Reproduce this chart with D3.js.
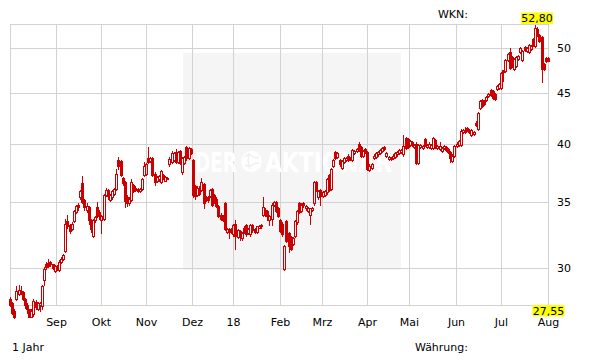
<!DOCTYPE html>
<html>
<head>
<meta charset="utf-8">
<script src="https://cdn.jsdelivr.net/npm/d3@7"></script>
<style>
  body { margin: 0; background: #fff; }
  text { font-family: "DejaVu Sans", Verdana, sans-serif; font-size: 11px; fill: #000; }
</style>
</head>
<body>
<div id="container"></div>
<script>
// daily candles, Aug 2017 - Aug 2018 (trading days)
var opens = [
  28.0, 27.7, 27.2, 27.95, 28.3, 28.4, 28.4, 28.0, 27.6, 27.3, 26.85, 27.0, 27.8, 27.3, 27.6, 27.5, 29.2, 30.3, 30.4, 30.5, 30.3, 29.85,
  30.2, 29.9, 30.45, 30.7, 31.25, 33.5, 33.2, 32.9, 33.5, 34.2, 34.8, 35.4, 36.6, 35.2, 34.4, 34.6, 33.6, 32.4, 33.6, 34.6, 34.2,
  33.6, 33.7, 35.6, 36.0, 35.2, 35.4, 35.7, 36.1, 38.6, 38.5, 37.0, 36.7, 35.4, 34.9, 35.2, 36.4, 36.2, 36.1, 35.9, 36.1, 37.3,
  37.4, 38.8, 38.5, 38.8, 37.4, 36.8, 36.9, 36.7, 37.3, 36.8, 37.05, 38.2, 38.4, 38.6, 39.3, 38.4, 39.4, 37.5, 38.3, 39.8, 38.8, 39.6,
  38.6, 36.3, 35.6, 36.2, 36.0, 36.5, 35.4, 35.4, 35.5, 36.1, 35.6, 35.3, 34.7, 34.0, 33.9, 34.9, 32.7, 32.9, 32.9,
  32.5, 33.25, 32.3, 32.75, 32.2, 33.0, 33.2, 32.6, 32.5, 33.2, 32.9, 32.7, 33.0, 33.1, 34.0, 34.4, 34.3, 33.6, 33.7, 34.8, 35.0, 34.5,
  33.6, 33.3, 30.0, 33.5, 32.6, 32.3, 31.8, 32.4, 33.4, 34.9, 34.3, 34.95, 34.5, 34.3, 34.0, 34.4, 34.9, 36.7, 35.4, 36.0,
  35.5, 35.6, 35.8, 37.3, 36.1, 38.1, 39.3, 38.9, 38.6, 37.9, 38.4, 38.6, 39.0, 38.7, 38.6, 39.2, 39.4, 40.05, 39.8, 39.0, 39.6,
  39.3, 37.7, 37.9, 38.8, 38.9, 39.1, 39.2, 39.4, 39.8, 39.0, 38.7, 38.8, 38.8, 38.9, 39.1, 39.2, 39.3, 39.1, 40.6, 40.5,
  40.0, 40.2, 39.8, 40.1, 38.3, 39.8, 39.7, 40.5, 39.8, 39.8, 39.7, 39.7, 40.4, 39.7, 39.6, 39.4, 39.7, 39.8, 39.6, 39.3, 38.5, 39.0,
  39.9, 40.0, 40.0, 41.2, 41.2, 41.6, 41.4, 40.9, 41.0, 42.1, 41.5, 43.5, 44.4, 44.3, 44.4, 44.8, 45.4, 45.3, 45.0, 45.5, 45.6,
  45.6, 47.5, 47.4, 48.7, 49.6, 49.0, 47.7, 48.0, 48.8, 49.6, 48.7, 50.2, 49.7, 49.6, 49.9, 51.1, 50.3, 52.3, 51.6, 51.3, 48.2, 48.9,
  48.9
];
var highs = [
  28.1, 27.8, 27.3, 28.85, 28.9, 28.8, 28.5, 28.05, 27.7, 27.35, 27.3, 27.95, 27.9, 27.8, 27.8, 28.9, 30.1, 30.5, 30.65, 30.55, 30.35, 30.25,
  30.25, 30.6, 30.8, 31.05, 33.7, 34.0, 33.3, 33.4, 34.4, 34.8, 34.9, 36.0, 37.2, 35.3, 34.9, 34.7, 33.7, 33.7, 33.9, 35.0, 34.4,
  34.0, 35.7, 36.2, 36.1, 35.7, 36.0, 36.2, 37.8, 38.9, 38.6, 37.1, 36.8, 35.6, 35.4, 36.9, 36.5, 36.3, 36.2, 36.2, 37.0, 38.4,
  38.3, 39.8, 38.9, 38.9, 37.5, 37.2, 37.3, 37.7, 37.35, 37.15, 37.1, 38.9, 39.4, 39.3, 39.6, 39.4, 39.5, 38.9, 39.0, 39.9, 39.8, 39.7,
  38.7, 36.4, 36.3, 36.3, 37.0, 36.6, 35.5, 35.5, 36.1, 36.2, 35.7, 35.4, 34.8, 34.1, 34.0, 35.0, 33.0, 33.0, 33.0,
  33.3, 33.6, 32.9, 32.8, 32.7, 33.1, 33.3, 33.0, 33.3, 33.3, 33.0, 33.15, 33.2, 33.3, 35.4, 34.5, 34.4, 34.0, 34.9, 35.1, 35.1, 34.6,
  33.7, 33.4, 31.7, 33.6, 32.7, 32.4, 32.3, 33.6, 34.4, 35.0, 34.9, 35.0, 34.8, 34.6, 34.55, 34.6, 36.8, 36.8, 36.0, 36.1,
  35.9, 36.0, 37.0, 37.4, 37.9, 38.7, 39.4, 39.3, 38.7, 38.6, 38.9, 38.9, 39.1, 38.9, 39.6, 39.5, 39.7, 40.2, 39.9, 39.5, 39.7,
  39.4, 38.2, 38.3, 39.1, 39.3, 39.4, 39.6, 39.8, 39.9, 39.3, 39.0, 38.9, 39.1, 39.3, 39.4, 39.6, 39.6, 40.9, 40.7, 40.6,
  40.4, 40.3, 40.1, 40.2, 40.1, 40.1, 40.0, 40.6, 40.1, 40.2, 40.1, 40.7, 40.5, 40.0, 40.2, 39.8, 40.0, 39.9, 39.7, 39.4, 39.1, 40.0,
  40.2, 40.4, 41.5, 41.5, 41.7, 41.7, 41.5, 41.5, 41.3, 42.2, 43.1, 44.4, 44.5, 44.4, 44.8, 45.1, 45.5, 45.4, 45.1, 45.9, 46.1,
  47.3, 47.6, 48.8, 49.5, 50.0, 49.1, 48.9, 49.1, 49.2, 50.1, 49.8, 50.3, 50.1, 50.5, 50.4, 51.2, 52.8, 52.5, 51.7, 51.4, 48.3, 49.0,
  49.0
];
var lows = [
  27.5, 27.0, 26.75, 27.9, 28.2, 28.3, 27.9, 27.4, 27.1, 26.8, 26.8, 26.9, 27.35, 27.25, 27.2, 27.3, 28.9, 30.0, 30.1, 30.2, 29.95, 29.8,
  29.9, 29.85, 30.4, 30.6, 31.2, 33.0, 32.6, 32.8, 33.4, 34.1, 34.4, 35.3, 34.9, 34.4, 34.2, 33.3, 32.7, 32.3, 33.4, 33.8, 33.7,
  32.6, 33.6, 35.5, 35.3, 35.1, 35.3, 35.6, 36.0, 37.8, 37.2, 36.4, 34.6, 34.7, 34.8, 35.1, 35.8, 35.9, 35.8, 35.8, 36.0, 37.2,
  37.3, 38.3, 38.4, 37.2, 36.4, 36.7, 36.8, 36.6, 36.9, 36.75, 36.9, 38.1, 38.3, 38.5, 38.3, 38.3, 38.2, 37.4, 38.2, 38.6, 38.7, 39.1,
  35.4, 35.3, 35.5, 35.6, 35.9, 34.5, 35.1, 35.0, 35.4, 34.7, 34.9, 34.6, 33.8, 33.6, 33.5, 32.8, 32.6, 32.2, 32.6,
  32.4, 31.4, 32.2, 32.1, 32.1, 32.6, 32.4, 32.5, 32.4, 32.7, 32.6, 32.6, 32.95, 33.0, 33.9, 33.9, 33.6, 33.2, 33.2, 34.7, 34.2, 33.8,
  32.7, 32.4, 29.9, 31.9, 31.2, 31.3, 31.7, 32.3, 33.3, 34.1, 34.2, 34.6, 34.4, 34.2, 33.3, 34.3, 34.8, 35.9, 35.3, 34.8,
  35.4, 35.5, 35.7, 35.9, 36.0, 38.0, 38.7, 38.8, 38.1, 37.8, 38.3, 38.5, 38.5, 38.6, 38.5, 39.1, 39.3, 39.4, 38.9, 38.9, 39.2,
  37.7, 37.6, 37.8, 38.7, 38.8, 39.0, 39.1, 39.3, 39.5, 38.9, 38.6, 38.6, 38.7, 38.8, 39.0, 39.1, 39.2, 39.0, 39.6, 39.7,
  39.9, 39.9, 39.7, 38.2, 38.2, 39.7, 39.6, 39.9, 39.7, 39.7, 39.6, 39.6, 39.7, 39.6, 39.5, 39.3, 39.6, 39.4, 39.2, 38.4, 38.4, 38.9,
  39.8, 39.9, 39.9, 41.1, 41.1, 41.3, 41.1, 40.8, 40.9, 41.8, 41.4, 43.4, 43.6, 43.8, 44.3, 44.7, 44.8, 44.5, 44.4, 45.4, 45.5,
  45.5, 46.4, 47.3, 48.6, 47.7, 47.9, 47.6, 47.9, 48.7, 49.5, 48.6, 49.7, 49.6, 49.5, 49.8, 50.3, 50.2, 51.4, 50.7, 46.2, 47.6, 48.4,
  48.5
];
var closes = [
  27.6, 27.1, 26.8, 28.5, 28.55, 28.5, 27.95, 27.6, 27.3, 26.85, 27.2, 27.85, 27.45, 27.7, 27.7, 28.8, 30.0, 30.15, 30.2, 30.3, 30.05, 30.2,
  29.95, 30.5, 30.7, 31.0, 33.3, 33.1, 32.75, 33.3, 34.3, 34.7, 34.6, 35.9, 35.0, 34.6, 34.7, 33.6, 32.9, 33.6, 33.8, 33.9, 33.9,
  33.9, 35.6, 36.0, 35.5, 35.6, 35.9, 36.1, 37.4, 38.1, 37.3, 36.6, 35.1, 34.9, 35.3, 36.7, 35.9, 36.0, 35.9, 36.1, 36.9, 38.1,
  38.2, 38.4, 38.8, 37.3, 36.7, 37.1, 37.2, 37.6, 37.0, 37.1, 36.95, 38.65, 39.2, 39.2, 38.4, 39.3, 38.3, 38.8, 38.9, 38.75, 39.7, 39.2,
  35.6, 35.5, 36.2, 35.7, 36.7, 34.9, 35.2, 35.2, 36.0, 34.8, 35.0, 34.7, 33.9, 33.7, 33.6, 32.9, 32.9, 32.7, 32.7,
  33.2, 32.35, 32.8, 32.6, 32.6, 32.7, 32.5, 32.9, 33.2, 32.8, 32.7, 33.1, 33.15, 33.2, 34.6, 34.0, 33.9, 33.9, 34.8, 35.0, 34.3, 33.9,
  32.75, 32.5, 31.6, 32.0, 31.6, 31.4, 32.2, 33.5, 34.3, 34.2, 34.8, 34.75, 34.7, 34.5, 34.5, 34.5, 36.7, 36.0, 35.9, 35.5,
  35.8, 35.9, 36.9, 36.0, 37.8, 38.6, 38.8, 39.2, 38.2, 38.5, 38.8, 38.8, 38.6, 38.8, 39.5, 39.4, 39.6, 39.5, 39.0, 39.4, 39.3,
  37.8, 38.1, 38.2, 39.0, 39.2, 39.3, 39.5, 39.7, 39.6, 39.2, 38.9, 38.7, 39.0, 39.2, 39.3, 39.5, 39.5, 39.9, 39.7, 39.8,
  40.3, 40.0, 40.0, 38.3, 40.0, 40.0, 39.9, 40.0, 40.0, 40.1, 40.0, 40.6, 39.8, 39.9, 39.9, 39.7, 39.9, 39.5, 39.3, 38.8, 39.0, 39.9,
  40.1, 40.3, 41.3, 41.4, 41.3, 41.4, 41.2, 41.4, 41.2, 41.9, 43.0, 44.3, 43.7, 43.9, 44.7, 45.0, 44.9, 44.6, 44.5, 45.8, 46.0,
  47.2, 47.3, 48.7, 49.4, 47.8, 48.0, 48.8, 49.0, 49.1, 50.0, 49.7, 49.8, 50.0, 50.4, 50.3, 50.4, 52.4, 51.5, 50.8, 47.7, 47.7, 48.5,
  48.6
];

var monthLabels = ['Sep', 'Okt', 'Nov', 'Dez', '18', 'Feb', 'Mrz', 'Apr', 'Mai', 'Jun', 'Jul', 'Aug'];
var monthStarts = [22, 43, 64, 86, 105, 127, 147, 168, 188, 210, 231, 253];
var yTicks = [30, 35, 40, 45, 50];
var rangeLow = 27.55, rangeHigh = 52.80;

var width = 611, height = 364,
    red = '#cc0000',
    gridColor = '#d2d2d2',
    n = closes.length,
    svg, x, y, de, candles;

de = d3.formatLocale({decimal: ',', thousands: '.', grouping: [3], currency: ['', ' €']});

function crisp(v) {
  return Math.floor(v) + 0.5;
}

svg = d3.select('#container').append('svg')
  .attr('width', width)
  .attr('height', height);

x = d3.scaleLinear().domain([0, n - 1]).range([10, 548]);
y = d3.scaleLog().domain([rangeLow, rangeHigh]).range([305.5, 24.8]);

// watermark background
svg.append('rect')
  .attr('x', 183).attr('y', 53)
  .attr('width', 218).attr('height', 217)
  .attr('fill', '#f5f5f5');

// grid
svg.append('g').selectAll('line')
  .data(yTicks)
  .enter().append('line')
  .attr('x1', 10).attr('x2', 548)
  .attr('y1', function (d) { return crisp(y(d)); })
  .attr('y2', function (d) { return crisp(y(d)); })
  .attr('stroke', gridColor);

svg.append('g').selectAll('line')
  .data(monthStarts)
  .enter().append('line')
  .attr('x1', function (d) { return crisp(x(d)); })
  .attr('x2', function (d) { return crisp(x(d)); })
  .attr('y1', crisp(y(rangeHigh))).attr('y2', crisp(y(rangeLow)))
  .attr('stroke', gridColor);

// frame
svg.append('rect')
  .attr('x', crisp(x(0))).attr('y', crisp(y(rangeHigh)))
  .attr('width', Math.floor(x(n - 1)) - Math.floor(x(0)))
  .attr('height', Math.floor(y(rangeLow)) - Math.floor(y(rangeHigh)))
  .attr('fill', 'none')
  .attr('stroke', gridColor);

// watermark text
var wm = svg.append('g').attr('fill', '#fff');
wm.append('text')
  .attr('x', 195).attr('y', 172)
  .attr('textLength', 42).attr('lengthAdjust', 'spacingAndGlyphs')
  .style('font-family', '"DejaVu Sans Condensed", "DejaVu Sans", sans-serif')
  .style('font-weight', 'bold').style('font-size', '27px').style('fill', '#fff')
  .text('DER');
wm.append('circle')
  .attr('cx', 251.5).attr('cy', 161.5).attr('r', 10.5)
  .attr('fill', '#fff');
wm.append('path')
  .attr('d', 'M244,157 q4,-4 8,-1 q3,3 7,1 M245,165 q5,3 9,-1 q2,-2 5,0 M249,153 q-2,8 1,16')
  .attr('fill', 'none').attr('stroke', '#efefef').attr('stroke-width', 1.5);
wm.append('text')
  .attr('x', 265).attr('y', 172)
  .attr('textLength', 127).attr('lengthAdjust', 'spacingAndGlyphs')
  .style('font-family', '"DejaVu Sans Condensed", "DejaVu Sans", sans-serif')
  .style('font-weight', 'bold').style('font-size', '27px').style('fill', '#fff')
  .text('AKTIONÄR');

// candles
candles = svg.append('g').selectAll('g')
  .data(d3.range(n))
  .enter().append('g');

function cx(i) { return Math.round(x(i)); }
function bodyTop(i) { return Math.round(y(Math.max(opens[i], closes[i]))); }
function bodyBottom(i) { return Math.max(Math.round(y(Math.min(opens[i], closes[i]))), bodyTop(i) + 1); }

candles.append('line')
  .attr('x1', function (i) { return cx(i) + 0.5; })
  .attr('x2', function (i) { return cx(i) + 0.5; })
  .attr('y1', function (i) { return Math.round(y(highs[i])); })
  .attr('y2', function (i) { return bodyTop(i); })
  .attr('stroke', red);

candles.append('line')
  .attr('x1', function (i) { return cx(i) + 0.5; })
  .attr('x2', function (i) { return cx(i) + 0.5; })
  .attr('y1', function (i) { return bodyBottom(i); })
  .attr('y2', function (i) { return Math.round(y(lows[i])) + 1; })
  .attr('stroke', red);

candles.append('rect')
  .attr('x', function (i) { return cx(i) - 0.5; })
  .attr('y', function (i) { return bodyTop(i) + 0.5; })
  .attr('width', 2)
  .attr('height', function (i) { return bodyBottom(i) - bodyTop(i); })
  .attr('fill', function (i) { return closes[i] >= opens[i] ? 'none' : red; })
  .attr('stroke', red);

// axis labels
svg.append('g').selectAll('text')
  .data(yTicks)
  .enter().append('text')
  .attr('x', 557)
  .attr('y', function (d) { return Math.floor(y(d)) + 4; })
  .text(function (d) { return d; });

svg.append('g').selectAll('text')
  .data(monthStarts)
  .enter().append('text')
  .attr('x', function (d) { return crisp(x(d)); })
  .attr('y', 326)
  .attr('text-anchor', 'middle')
  .text(function (d, i) { return monthLabels[i]; });

// range labels
function rangeLabel(value, cxPos, top) {
  var t = de.format('.2f')(value),
      g = svg.append('g');
  g.append('rect')
    .attr('x', cxPos - 16).attr('y', top)
    .attr('width', 32).attr('height', 11.5)
    .attr('fill', '#ffff00');
  g.append('text')
    .attr('x', cxPos).attr('y', top + 9.5)
    .attr('text-anchor', 'middle')
    .text(t);
}
rangeLabel(rangeHigh, 537, 12.5);
rangeLabel(rangeLow, 548.5, 305);

svg.append('text').attr('x', 468).attr('y', 18).attr('text-anchor', 'end').text('WKN:');
svg.append('text').attr('x', 12).attr('y', 351).text('1 Jahr');
svg.append('text').attr('x', 468).attr('y', 351).attr('text-anchor', 'end').text('Währung:');
</script>
</body>
</html>
